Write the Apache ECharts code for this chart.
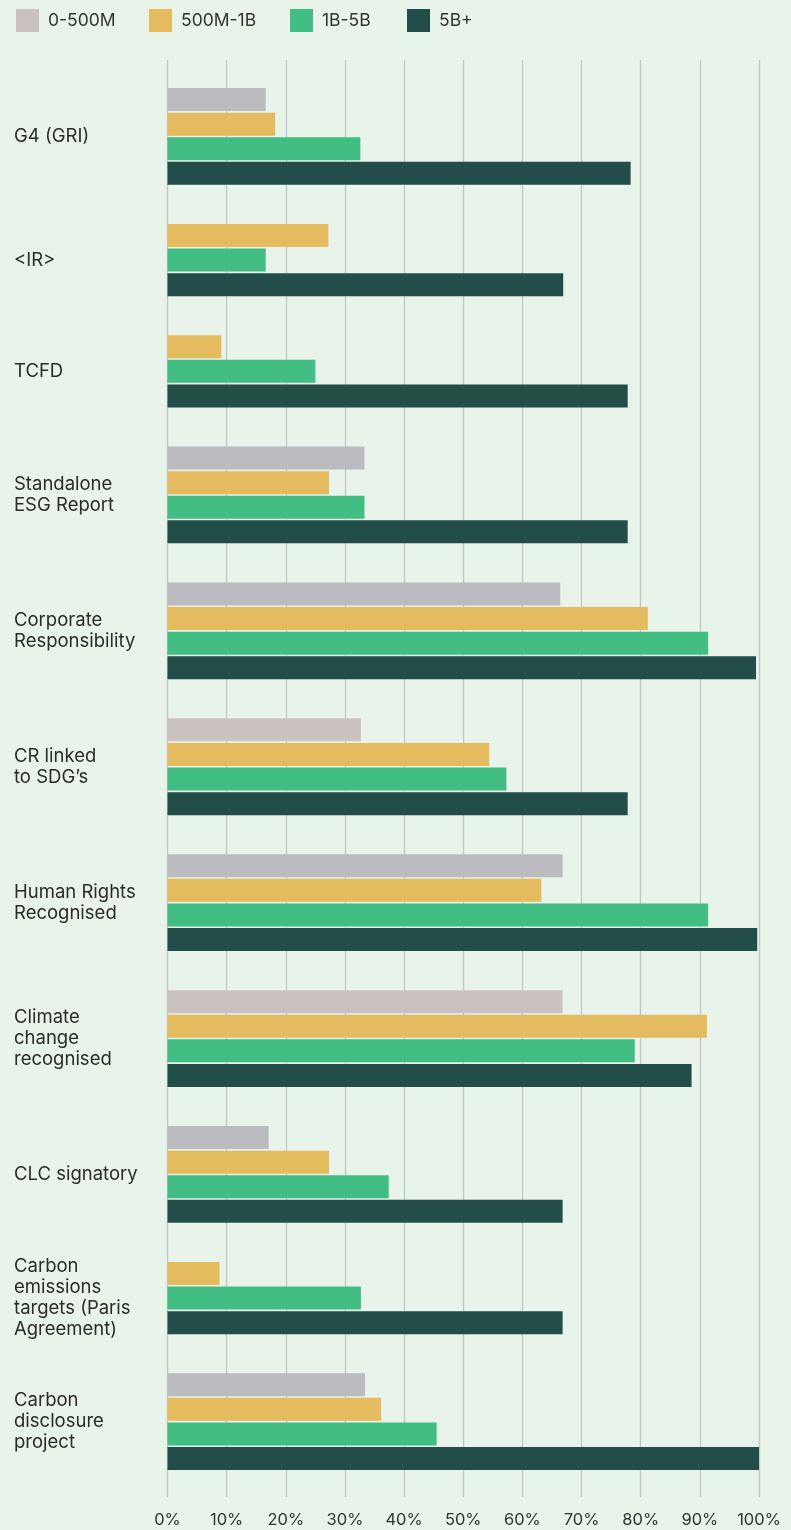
<!DOCTYPE html>
<html>
<head>
<meta charset="UTF-8">
<title>Reporting frameworks by company size</title>
<script src="https://cdn.jsdelivr.net/npm/echarts@6/dist/echarts.min.js"></script>
<style>
  body { margin: 0; background: #e8f3ea; }
  #main { width: 791px; height: 1530px; }
</style>
</head>
<body>
<div id="main"></div>
<script type="text/javascript">
  // row labels, top to bottom
  var categories = ['G4 (GRI)', '<IR>', 'TCFD', 'Standalone\nESG Report', 'Corporate\nResponsibility',
    'CR linked\nto SDG\u2019s', 'Human Rights\nRecognised', 'Climate\nchange\nrecognised', 'CLC signatory',
    'Carbon\nemissions\ntargets (Paris\nAgreement)', 'Carbon\ndisclosure\nproject'];
  var sizeBands = ['0-500M', '500M-1B', '1B-5B', '5B+'];

  // % of companies per revenue band (null = no bar)
  var band0To500M = [16.6, null, null, 33.3, 66.4, 32.7, 66.8, 66.8, 17.1, null, 33.4];
  var band500MTo1B = [18.2, 27.2, 9.1, 27.3, 81.2, 54.4, 63.2, 91.2, 27.3, 8.8, 36.1];
  var band1BTo5B = [32.6, 16.6, 25, 33.3, 91.4, 57.3, 91.4, 79.0, 37.4, 32.7, 45.5];
  var band5BPlus = [78.3, 66.9, 77.8, 77.8, 99.5, 77.8, 99.7, 88.6, 66.8, 66.8, 100];

  var allBands = [band0To500M, band500MTo1B, band1BTo5B, band5BPlus];
  var colors = ['#bbbcc0', '#e4bb5e', '#42bd84', '#234d48'];
  var legendColors = ['#cbc2bf', '#e4bb5e', '#42bd84', '#234d48'];
  var legendLefts = [16, 149, 290, 407];

  var plotLeft = 167.5, plotRight = 32;
  var barW = 23, barStep = 24.6, groupGap = 37.5, firstTop = 68.5;
  var font = 'Inter';

  var grids = [{ left: plotLeft, right: plotRight, top: 60, bottom: 33, containLabel: false, outerBoundsMode: 'none' }];
  var xAxes = [{
    gridIndex: 0, type: 'value', min: 0, max: 100, interval: 10,
    axisLine: { show: false }, axisTick: { show: false },
    axisLabel: { formatter: '{value}%', color: '#333', fontSize: 16.5, fontFamily: font, margin: 15 },
    splitLine: { show: true, lineStyle: { color: '#c4c8c5', width: 1.3 } }
  }];
  var yAxes = [{ gridIndex: 0, type: 'value', show: false }];
  var series = [];

  var groupTop = firstTop;
  for (var i = 0; i < categories.length; i++) {
    var present = [];
    for (var b = 0; b < allBands.length; b++) {
      if (allBands[b][i] !== null) present.push(b);
    }
    var h = present.length * barStep + groupGap;
    grids.push({ left: plotLeft, right: plotRight, top: groupTop, height: h, containLabel: false, outerBoundsMode: 'none' });
    xAxes.push({ gridIndex: i + 1, type: 'value', min: 0, max: 100, show: false });
    yAxes.push({
      gridIndex: i + 1, type: 'category', inverse: true, data: [categories[i]],
      axisLine: { show: false }, axisTick: { show: false }, splitLine: { show: false },
      axisLabel: { align: 'left', margin: plotLeft - 14, fontSize: 18.5, lineHeight: 21,
        color: '#2b2b2b', fontFamily: font }
    });
    present.forEach(function (b) {
      var c = colors[b];
      // two of the smallest-band bars are drawn in the warmer legend grey
      if (b === 0 && (i === 5 || i === 7)) c = legendColors[0];
      series.push({
        type: 'bar', name: sizeBands[b], xAxisIndex: i + 1, yAxisIndex: i + 1,
        data: [allBands[b][i]], barWidth: barW, barGap: '7%',
        itemStyle: { color: c }, silent: true
      });
    });
    groupTop += h;
  }

  // one legend per size band so each swatch sits where the original has it
  var legends = sizeBands.map(function (n, k) {
    return {
      left: legendLefts[k], top: 9, padding: 0, itemWidth: 23, itemHeight: 23, icon: 'rect',
      textStyle: { fontSize: 17.5, color: '#333', fontFamily: font, padding: [0, 0, 0, 4] },
      data: [{ name: n, itemStyle: { color: legendColors[k] } }]
    };
  });

  var option = {
    backgroundColor: '#e8f3ea',
    animation: false,
    legend: legends,
    grid: grids,
    xAxis: xAxes,
    yAxis: yAxes,
    series: series
  };

  var myChart = echarts.init(document.getElementById('main'));
  myChart.setOption(option);
</script>
</body>
</html>
